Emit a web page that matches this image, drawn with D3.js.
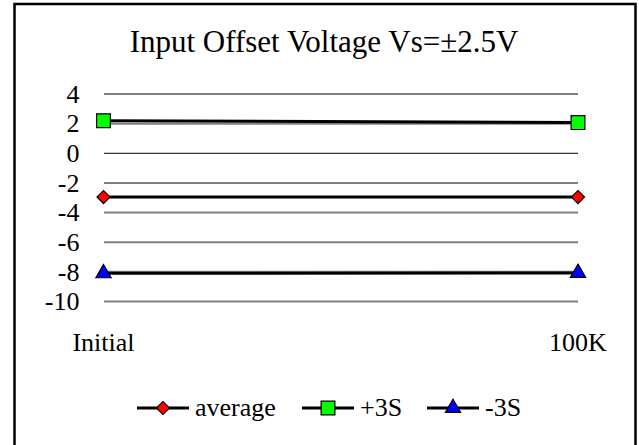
<!DOCTYPE html>
<html>
<head>
<meta charset="utf-8">
<script src="https://cdn.jsdelivr.net/npm/d3@7"></script>
<style>
  body { margin: 0; background: #fff; }
</style>
</head>
<body>
<div id="chart"></div>
<script>
let categories = ["Initial", "100K"];
let yTicks = [4, 2, 0, -2, -4, -6, -8, -10];
let average = [-2.95, -2.95];
let plus3S = [2.2, 2.07];
let minus3S = [-8.1, -8.07];

let series = [
  { name: "average", values: average, fill: "#FF0000", symbol: d3.symbolSquare, rotate: 45, size: 85 },
  { name: "+3S", values: plus3S, fill: "#00FF00", symbol: d3.symbolSquare, rotate: 0, size: 190 },
  { name: "-3S", values: minus3S, fill: "#0000FF", symbol: d3.symbolTriangle, rotate: 0, size: 100 }
];

let font = "Liberation Serif";

let w = 639, h = 445;
let svg = d3.select("#chart").append("svg").attr("width", w).attr("height", h);

svg.append("rect").attr("x", 0).attr("y", 0).attr("width", w).attr("height", h).attr("fill", "#fff");
// outer frame (bottom edge is cut off in the original)
svg.append("rect").attr("x", 14.5).attr("y", 4).attr("width", 621).attr("height", 460)
  .attr("fill", "none").attr("stroke", "#000").attr("stroke-width", 2.5);

svg.append("text").attr("x", 324).attr("y", 52).attr("text-anchor", "middle")
  .style("font-family", font).style("font-size", "31px").text("Input Offset Voltage Vs=\u00B12.5V");

let x = d3.scalePoint().domain(categories).range([103.5, 578]);
let y = d3.scaleLinear().domain([-10, 4]).range([301.5, 94]);

// gridlines
svg.append("g").selectAll("line").data(yTicks.filter(d => d !== 0)).enter().append("line")
  .attr("x1", 104).attr("x2", 578)
  .attr("y1", d => y(d)).attr("y2", d => y(d))
  .attr("stroke", "#808080").attr("stroke-width", 2);

// category axis at zero
svg.append("line").attr("x1", 104).attr("x2", 578).attr("y1", y(0)).attr("y2", y(0))
  .attr("stroke", "#000").attr("stroke-width", 1);

// y tick labels
svg.append("g").selectAll("text").data(yTicks).enter().append("text")
  .attr("x", 79.5).attr("y", d => y(d)).attr("dy", "0.34em")
  .attr("text-anchor", "end")
  .style("font-family", font).style("font-size", "26px").text(d => d);

// x labels
svg.append("g").selectAll("text").data(categories).enter().append("text")
  .attr("x", d => x(d)).attr("y", 351)
  .attr("text-anchor", "middle")
  .style("font-family", font).style("font-size", "26px").text(d => d);

let line = d3.line().x((d, i) => x(categories[i])).y(d => y(d));

series.forEach(s => {
  svg.append("path").attr("d", line(s.values)).attr("fill", "none")
    .attr("stroke", "#000").attr("stroke-width", 3);
  svg.append("g").selectAll("path").data(s.values).enter().append("path")
    .attr("d", d3.symbol().type(s.symbol).size(s.size))
    .attr("transform", (d, i) => "translate(" + x(categories[i]) + "," + y(d) + ") rotate(" + s.rotate + ")")
    .attr("fill", s.fill).attr("stroke", "#000").attr("stroke-width", 1.2);
});

// legend
let legendX = [137, 302, 427];
let legendY = 408;
series.forEach((s, i) => {
  let g = svg.append("g").attr("transform", "translate(" + legendX[i] + "," + legendY + ")");
  g.append("line").attr("x1", 0).attr("x2", 52).attr("y1", 0).attr("y2", 0)
    .attr("stroke", "#000").attr("stroke-width", 3);
  g.append("path").attr("d", d3.symbol().type(s.symbol).size(s.size))
    .attr("transform", "translate(26,0) rotate(" + s.rotate + ")")
    .attr("fill", s.fill).attr("stroke", "#000").attr("stroke-width", 1.2);
  g.append("text").attr("x", 58).attr("y", 0).attr("dy", "0.3em")
    .style("font-family", font).style("font-size", "26px").text(s.name);
});
</script>
</body>
</html>
